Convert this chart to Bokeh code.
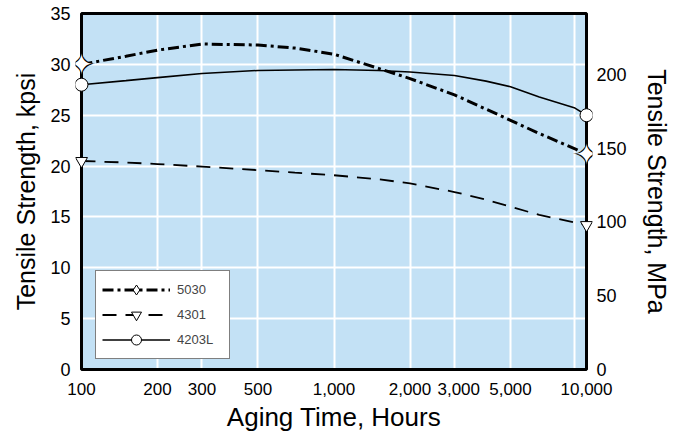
import math
from bokeh.plotting import figure
from bokeh.models import Range1d, LinearAxis, FixedTicker, Legend, LegendItem, NumeralTickFormatter
from bokeh.core.properties import value
from bokeh.embed import file_html
from bokeh.resources import INLINE

# ---------------- data ----------------
hours = [100, 150, 200, 300, 500, 700, 1000, 1500, 2000, 3000, 4000, 5000, 6500, 9000, 10000]
s5030 = [30.0, 30.8, 31.4, 32.0, 31.9, 31.6, 31.0, 29.6, 28.6, 27.0, 25.6, 24.5, 23.2, 21.7, 21.1]
s4301 = [20.5, 20.35, 20.2, 19.95, 19.6, 19.35, 19.1, 18.7, 18.3, 17.45, 16.7, 16.0, 15.2, 14.45, 14.2]
s4203L = [28.0, 28.4, 28.7, 29.1, 29.4, 29.45, 29.5, 29.4, 29.25, 28.9, 28.35, 27.8, 26.8, 25.7, 25.0]
series_names = ["5030", "4301", "4203L"]

x_ticks = [100, 200, 300, 500, 1000, 2000, 3000, 5000, 10000]
x_grid = [200, 300, 500, 1000, 2000, 3000, 5000, 9000]
y_ticks = [0, 5, 10, 15, 20, 25, 30, 35]
mpa_ticks = [0, 50, 100, 150, 200]
KPSI_TO_MPA = 6.895
X_MIN, X_MAX = 100, 10000
Y_MIN, Y_MAX = 0, 35
x_title = "Aging Time, Hours"
y_title = "Tensile Strength, kpsi"
y2_title = "Tensile Strength, MPa"

# ---------------- style ----------------
FONT = "Liberation Sans"
BLUE = "#c3e1f5"
XPAD = 1.056
YPAD = 0.59

p = figure(width=673, height=434, x_axis_type="log",
           x_range=Range1d(X_MIN / XPAD, X_MAX * XPAD),
           y_range=Range1d(Y_MIN - YPAD, Y_MAX + YPAD),
           output_backend="svg", toolbar_location=None,
           min_border_left=75, min_border_right=80,
           min_border_top=7, min_border_bottom=59)
p.background_fill_color = "white"
p.border_fill_color = "white"
p.outline_line_color = None

# panel
p.quad(left=[X_MIN], right=[X_MAX], bottom=[Y_MIN], top=[Y_MAX],
       fill_color=BLUE, line_color=None, level="image")

p.xgrid.ticker = FixedTicker(ticks=x_grid)
p.ygrid.ticker = FixedTicker(ticks=y_ticks[1:-1])
p.grid.grid_line_color = "white"
p.grid.grid_line_width = 2

p.quad(left=[X_MIN], right=[X_MAX], bottom=[Y_MIN], top=[Y_MAX],
       fill_color=None, line_color="black", line_width=3)

# axes
p.xaxis.ticker = FixedTicker(ticks=x_ticks)
p.xaxis.formatter = NumeralTickFormatter(format="0,0")
p.xaxis.major_label_overrides = {3000: "\u20023,000"}
p.xaxis.axis_label = x_title
p.yaxis.ticker = FixedTicker(ticks=y_ticks)
p.yaxis.axis_label = y_title

p.extra_y_ranges = {"mpa": Range1d((Y_MIN - YPAD) * KPSI_TO_MPA, (Y_MAX + YPAD) * KPSI_TO_MPA)}
rax = LinearAxis(y_range_name="mpa", ticker=FixedTicker(ticks=mpa_ticks), axis_label=y2_title)
p.add_layout(rax, "right")

for ax in p.axis:
    ax.axis_line_color = None
    ax.major_tick_in = 0
    ax.major_tick_out = 0
    ax.minor_tick_line_color = None
    ax.major_label_text_font = FONT
    ax.major_label_text_font_size = "18px"
    ax.major_label_text_color = "black"
    ax.axis_label_text_font = FONT
    ax.axis_label_text_font_size = "25px"
    ax.axis_label_text_font_style = "normal"
    ax.axis_label_text_color = "black"

p.xaxis.major_label_text_font_size = "17px"
p.xaxis.axis_label_text_font_size = "26px"
p.xaxis.major_label_standoff = 4
p.xaxis.axis_label_standoff = 0
p.yaxis.major_label_standoff = 5
p.yaxis.axis_label_standoff = 7
rax.major_label_standoff = 4
rax.axis_label_standoff = 13
rax.axis_label_text_line_height = 0.8

# lines
r1 = p.line(hours, s5030, line_color="black", line_width=3, line_dash="11 4 3 4")
r2 = p.line(hours, s4301, line_color="black", line_width=1.8, line_dash="14 9")
r3 = p.line(hours, s4203L, line_color="black", line_width=1.6)

ends = [hours[0], hours[-1]]
tri = p.scatter(ends, [s4301[0], s4301[-1]], marker="inverted_triangle", size=12,
                fill_color="white", line_color="black", line_width=1)
circ = p.scatter(ends, [s4203L[0], s4203L[-1]], marker="circle", size=13,
                 fill_color="white", line_color="black", line_width=1)
# four-pointed star markers
p.text(ends, [s5030[0], s5030[-1]], text=["\u2726", "\u2726"], text_font=value("DejaVu Sans"),
       text_font_size="36px", text_align="center", text_baseline="middle", text_color="black")
p.text(ends, [s5030[0], s5030[-1]], text=["\u2726", "\u2726"], text_font=value("DejaVu Sans"),
       text_font_size="28px", text_align="center", text_baseline="middle", text_color="white")
star_leg = p.scatter(ends, [s5030[0], s5030[-1]], marker="diamond", size=0,
                     fill_color="white", line_color="black", line_width=1)

legend = Legend(items=[LegendItem(label=series_names[0], renderers=[r1, star_leg]),
                       LegendItem(label=series_names[1], renderers=[r2, tri]),
                       LegendItem(label=series_names[2], renderers=[r3, circ])],
                location=(20, 16), glyph_width=68, glyph_height=25, spacing=0,
                padding=6, label_standoff=7, label_width=46, label_height=25,
                label_text_font=FONT,
                label_text_font_size="13px", border_line_color="black",
                border_line_width=1.5, background_fill_color="white",
                background_fill_alpha=1, margin=0)
p.add_layout(legend, "center")

open("out.html", "w").write(file_html(p, INLINE))
